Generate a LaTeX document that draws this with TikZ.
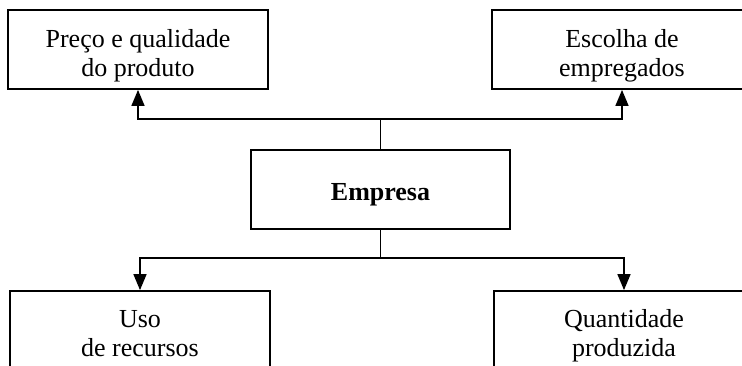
\documentclass[tikz,border=0pt]{standalone}
\usepackage{fontspec}
\setmainfont{Liberation Serif}
\usetikzlibrary{arrows.meta,calc}
\newcommand\twolines[2]{\begin{tabular}[t]{@{}c@{}}#1\\#2\end{tabular}}
\tikzset{
  box/.style={draw=black, line width=1.8pt, minimum width=260pt, inner sep=0pt, fill=none},
  label text/.style={anchor=base, inner sep=0pt, font=\fontsize{26}{29}\selectfont},
  link/.style={line width=1.5pt, line join=miter},
  arrowlink/.style={link, -{Triangle[length=16pt,width=13pt]}},
}
\begin{document}
\begin{tikzpicture}[x=1pt,y=-1pt]
  \useasboundingbox (0,0) rectangle (742,365);
  \clip (0,0) rectangle (742,365);
  \fill[white] (0,0) rectangle (742,365);

  % boxes
  \node[box, minimum height=79pt] (pq) at (138,49.5) {};
  \node[box, minimum height=79pt] (ee) at (622,49.5) {};
  \node[box, minimum width=259pt, minimum height=79pt] (emp) at (380.5,189.5) {};
  \node[box, minimum height=110pt] (ur) at (140,346) {};
  \node[box, minimum height=110pt] (qp) at (624,346) {};

  % texts
  \node[label text] (pqt) at (138,47) {\twolines{Preço e qualidade}{do produto}};
  \node[label text] (eet) at (622,47) {\twolines{Escolha de}{empregados}};
  \node[label text, font=\fontsize{26}{29}\selectfont\bfseries] (empt) at (380.5,200) {Empresa};
  \node[label text] (urt) at (140,327) {\twolines{Uso}{de recursos}};
  \node[label text] (qpt) at (624,327) {\twolines{Quantidade}{produzida}};

  % connectors
  \coordinate (top) at ($(emp.north)+(0,-30)$);
  \draw[link] (emp.north) -- (top);
  \draw[arrowlink] (top) -| (pq.south);
  \draw[arrowlink] (top) -| (ee.south);

  \coordinate (bot) at ($(emp.south)+(0,28)$);
  \draw[link] (emp.south) -- (bot);
  \draw[arrowlink] (bot) -| (ur.north);
  \draw[arrowlink] (bot) -| (qp.north);
\end{tikzpicture}
\end{document}
